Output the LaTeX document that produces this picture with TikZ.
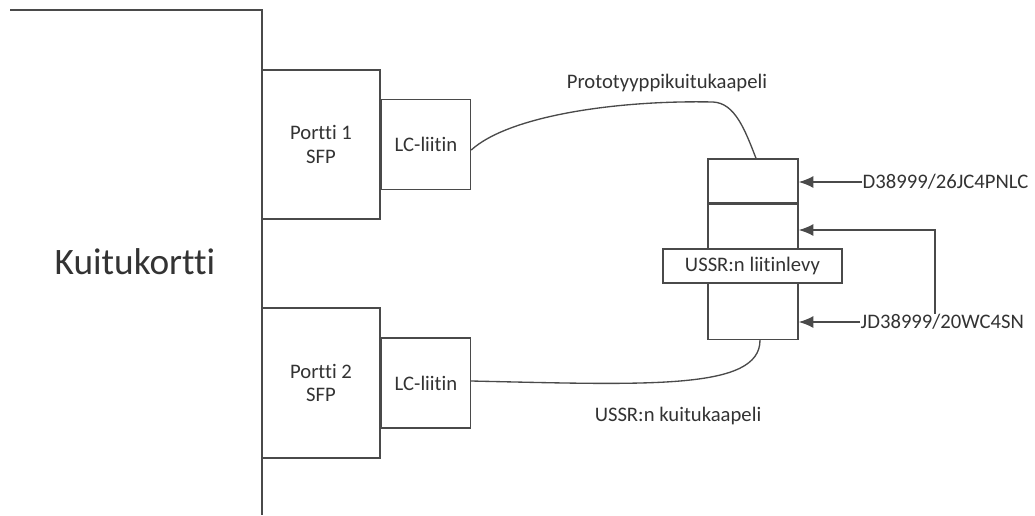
\documentclass[tikz,border=0pt]{standalone}
\usepackage{fontspec}
\setmainfont{Carlito}[Ligatures={NoCommon,NoContextual}, Contextuals=NoAlternate]
\usetikzlibrary{arrows.meta,positioning}

\definecolor{viiva}{HTML}{4A4A4A}
\definecolor{teksti}{HTML}{333333}

\begin{document}
\begin{tikzpicture}[x=0.75pt, y=-0.75pt, line width=1.1pt,
		every node/.style = {text=teksti, font=\fontsize{15.5}{17.5}\selectfont},
		laatikko/.style = {draw=viiva, rectangle, inner sep=0pt, align=center},
		nuoli/.style = {draw=viiva, -{Latex[length=11pt,width=9pt]}},
		kaapeli/.style = {draw=viiva, line width=1pt}] 
			\useasboundingbox (0,0) rectangle (1035,515);
			% kuitukortti
			\draw[viiva] (10,10) -- (262,10) -- (262,515);
			\node (kortti) at (135,262) {\fontsize{28}{32}\selectfont Kuitukortti};
			% portit ja liittimet
			\node[laatikko, minimum width=88.5pt, minimum height=111.75pt] (p1) at (321,144.5) {Portti 1\\SFP};
			\node[laatikko, minimum width=66.75pt, minimum height=67.5pt, right=0pt of p1] (lc1) {LC-liitin};
			\node[laatikko, minimum width=88.5pt, minimum height=112.5pt] (p2) at (321,383) {Portti 2\\SFP};
			\node[laatikko, minimum width=66.75pt, minimum height=67.5pt, right=0pt of p2] (lc2) {LC-liitin};
			% liitinlevy
			\node[laatikko, minimum width=67.5pt, minimum height=33pt] (ylempi) at (753,181) {};
			\node[laatikko, minimum width=67.5pt, minimum height=101.25pt, below=0pt of ylempi] (alempi) {};
			\node[laatikko, fill=white, minimum width=134.25pt, minimum height=25.5pt] (levy) at (752.5,266) {USSR:n liitinlevy};
			% liitintyypit
			\node[anchor=west, inner sep=0pt] (d26) at (862,182) {D38999/26JC4PNLC};
			\node[anchor=west, inner sep=0pt] (jd20) at (860,322) {JD38999/20WC4SN};
			\coordinate (kulma) at (935,230);
			\draw[nuoli] (d26) -- (ylempi.east |- d26);
			\draw[nuoli] (jd20) -- (alempi.east |- jd20);
			\draw[nuoli] (jd20.north -| kulma) -- (kulma) -- (alempi.east |- kulma);
			% kaapelit
			\draw[kaapeli] (lc1.east |- 0,150) .. controls (510,115) and (620,100) .. (713,102)
				.. controls (735,103) and (745,130) .. (ylempi.north -| 756,0);
			\draw[kaapeli] (lc2.east |- 0,381) .. controls (650,385) and (760,390) .. (alempi.south -| 760,0);
			\node (proto) at (667,83) {Prototyyppikuitukaapeli};
			\node (ussr) at (678,416) {USSR:n kuitukaapeli};
		\end{tikzpicture}
\end{document}
